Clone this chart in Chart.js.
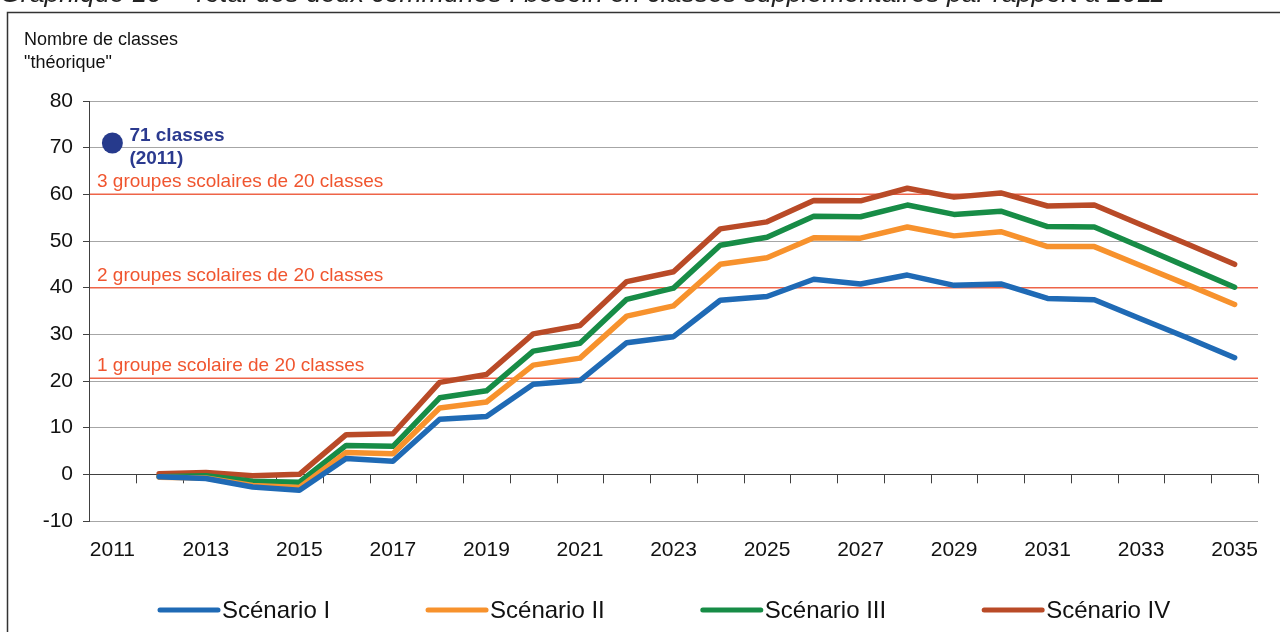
<!DOCTYPE html>
<html lang="fr">
<head>
<meta charset="utf-8">
<title>Graphique 10 - besoin en classes supplémentaires</title>
<script src="https://cdn.jsdelivr.net/npm/chart.js@4.4.1/dist/chart.umd.min.js"></script>
<style>
  html, body { margin: 0; padding: 0; background: #fff; }
  #wrap { position: relative; width: 1280px; height: 632px; }
</style>
</head>
<body>
<div id="wrap"><canvas id="besoinChart"></canvas></div>
<script>
// Données (classes supplémentaires par rapport à 2011)
const annees = ['2011', '2012', '2013', '2014', '2015', '2016', '2017', '2018', '2019', '2020',
                '2021', '2022', '2023', '2024', '2025', '2026', '2027', '2028', '2029', '2030',
                '2031', '2032', '2033', '2034', '2035'];

const scenarioI   = [null, -0.5, -0.9, -2.7, -3.4, 3.4, 2.8, 11.8, 12.4, 19.3, 20.1, 28.2, 29.5,
                     37.3, 38.1, 41.8, 40.8, 42.7, 40.5, 40.8, 37.7, 37.4, 33.3, 29.2, 25.0];
const scenarioII  = [null, -0.6, -0.8, -2.4, -2.8, 4.7, 4.4, 14.2, 15.5, 23.4, 24.9, 33.9, 36.1,
                     45.0, 46.4, 50.7, 50.6, 53.0, 51.1, 52.0, 48.8, 48.8, 44.7, 40.6, 36.4];
const scenarioIII = [null, -0.5, -0.3, -1.5, -1.7, 6.2, 6.0, 16.4, 17.9, 26.4, 28.1, 37.5, 39.9,
                     49.1, 50.8, 55.3, 55.2, 57.7, 55.7, 56.4, 53.1, 53.0, 48.7, 44.4, 40.1];
const scenarioIV  = [null, 0.1, 0.4, -0.3, 0.0, 8.5, 8.7, 19.7, 21.4, 30.1, 31.9, 41.3, 43.4,
                     52.6, 54.1, 58.7, 58.6, 61.3, 59.4, 60.3, 57.5, 57.7, 53.5, 49.3, 45.0];

const scenarios = ['Scénario I', 'Scénario II', 'Scénario III', 'Scénario IV'];
const couleurs = ['#1f6ab5', '#f7922d', '#178c46', '#b94a27'];

// Situation de départ
const classes2011 = 71;

// Seuils (groupes scolaires de 20 classes)
const seuils = [20.6, 40, 60];
const seuilsTextes = ['1 groupe scolaire de 20 classes', '2 groupes scolaires de 20 classes', '3 groupes scolaires de 20 classes'];

const titre = 'Graphique 10 – Total des deux communes : besoin en classes supplémentaires par rapport à 2011';

Chart.defaults.font.family = 'Arial, "Liberation Sans", sans-serif';
Chart.defaults.color = '#111';

// Décor : seuils, axe du zéro, titre, cadre, légende
const decor = {
    id: 'decor',
    beforeDatasetsDraw(chart) {
        const ctx = chart.ctx;
        const area = chart.chartArea;
        const y = chart.scales.y;
        const x = chart.scales.x;
        ctx.save();

        // graduations sous la ligne du zéro
        const y0 = y.getPixelForValue(0);
        const pas = (area.right - area.left) / annees.length;
        ctx.strokeStyle = '#404040';
        ctx.lineWidth = 1;
        ctx.beginPath();
        for (let i = 1; i <= annees.length; i++) {
            const xb = Math.round(x.getPixelForValue(i - 1) + pas / 2) + 0.5;
            ctx.moveTo(xb, y0);
            ctx.lineTo(xb, y0 + 9);
        }
        ctx.stroke();

        // lignes de seuil
        ctx.strokeStyle = '#ee6448';
        ctx.lineWidth = 1.5;
        ctx.fillStyle = '#f0552f';
        ctx.font = '19px Arial, "Liberation Sans", sans-serif';
        ctx.textBaseline = 'alphabetic';
        seuils.forEach((s, i) => {
            const ys = y.getPixelForValue(s);
            ctx.beginPath();
            ctx.moveTo(area.left + 1, ys);
            ctx.lineTo(area.right, ys);
            ctx.stroke();
            ctx.fillText(seuilsTextes[i], area.left + 8, ys - 7);
        });
        ctx.restore();
    },
    afterDraw(chart) {
        const ctx = chart.ctx;
        const area = chart.chartArea;
        ctx.save();

        // titre coupé en haut
        ctx.fillStyle = '#222';
        let taille = 24;
        ctx.font = 'italic ' + taille + 'px Arial, "Liberation Sans", sans-serif';
        taille = taille * 1165 / ctx.measureText(titre).width;
        ctx.font = 'italic ' + taille.toFixed(1) + 'px Arial, "Liberation Sans", sans-serif';
        ctx.textBaseline = 'alphabetic';
        ctx.fillText(titre, 0, 2);

        // cadre
        ctx.strokeStyle = '#333';
        ctx.lineWidth = 1.5;
        ctx.strokeRect(7.5, 12.5, 1290, 640);

        // titre de l'axe
        ctx.fillStyle = '#111';
        ctx.font = '18px Arial, "Liberation Sans", sans-serif';
        ctx.textBaseline = 'middle';
        ctx.fillText('Nombre de classes', 24, 40);
        ctx.fillText('"théorique"', 24, 63);

        // étiquette du point 2011
        const meta = chart.getDatasetMeta(4);
        const pt = meta.data[0];
        ctx.fillStyle = '#2b3a8f';
        ctx.font = 'bold 19px Arial, "Liberation Sans", sans-serif';
        ctx.fillText(classes2011 + ' classes', pt.x + 17, pt.y - 7);
        ctx.fillText('(' + annees[0] + ')', pt.x + 17, pt.y + 16);

        // légende
        ctx.font = '24px Arial, "Liberation Sans", sans-serif';
        ctx.textBaseline = 'middle';
        const yl = 610;
        let xl = area.left + 69;
        scenarios.forEach((nom, i) => {
            ctx.strokeStyle = couleurs[i];
            ctx.lineWidth = 5;
            ctx.lineCap = 'round';
            ctx.beginPath();
            ctx.moveTo(xl + 2, yl);
            ctx.lineTo(xl + 60, yl);
            ctx.stroke();
            ctx.fillStyle = '#111';
            ctx.fillText(nom, xl + 64, yl + 1);
            xl += 64 + ctx.measureText(nom).width + 96;
        });
        ctx.restore();
    }
};

const series = [scenarioI, scenarioII, scenarioIII, scenarioIV];
const datasets = series.map((valeurs, i) => ({
    label: scenarios[i],
    data: valeurs,
    borderColor: couleurs[i],
    backgroundColor: couleurs[i],
    borderWidth: 5.5,
    borderCapStyle: 'round',
    borderJoinStyle: 'round',
    pointRadius: 0,
    tension: 0,
    fill: false
}));

datasets.push({
    label: 'Départ',
    data: annees.map((a, i) => (i === 0 ? classes2011 : null)),
    showLine: false,
    pointRadius: 10.5,
    pointBackgroundColor: '#263a8c',
    pointBorderWidth: 0,
    borderColor: '#263a8c'
});

const ctx = document.getElementById('besoinChart').getContext('2d');
const chart = new Chart(ctx, {
    type: 'line',
    data: { labels: annees, datasets: datasets },
    options: {
        responsive: true,
        maintainAspectRatio: false,
        animation: false,
        layout: { padding: { top: 101, right: 22, bottom: 51, left: 0 } },
        plugins: {
            legend: { display: false },
            tooltip: { enabled: false }
        },
        scales: {
            x: {
                type: 'category',
                offset: true,
                grid: { display: false, drawTicks: false },
                border: { display: false },
                ticks: {
                    autoSkip: false,
                    maxRotation: 0,
                    padding: 17,
                    font: { size: 21 },
                    color: '#111',
                    callback: function(v, i) {
                        return i % 2 === 0 ? annees[i] : '';
                    }
                },
                afterFit: function(scale) { scale.height = 60; }
            },
            y: {
                min: -10,
                max: 80,
                ticks: { stepSize: 10, padding: 10, font: { size: 21 }, color: '#111' },
                grid: {
                    color: c => (c.tick && c.tick.value === 0 ? '#404040' : '#a6a6a6'),
                    tickColor: '#404040',
                    tickLength: 6,
                    lineWidth: 1
                },
                border: { color: '#404040', width: 1 },
                afterFit: function(scale) { scale.width = 89; }
            }
        }
    },
    plugins: [decor]
});
</script>
</body>
</html>
